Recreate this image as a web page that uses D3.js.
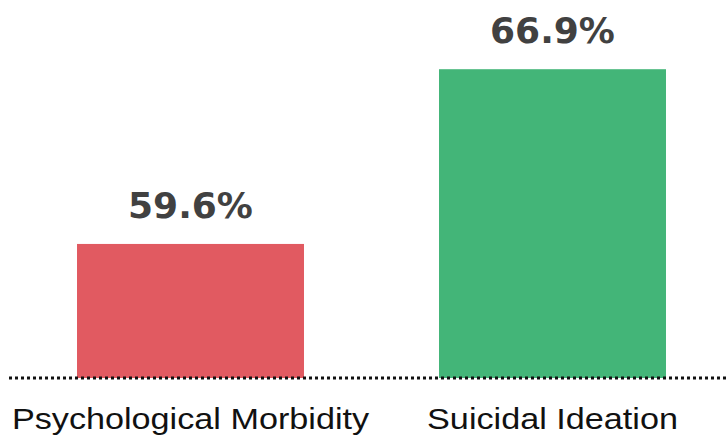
<!DOCTYPE html>
<html>
<head>
<meta charset="utf-8">
<script src="https://cdn.jsdelivr.net/npm/d3@7"></script>
<style>
  html, body { margin: 0; padding: 0; background: #ffffff; }
  svg { display: block; }
</style>
</head>
<body>
<svg id="chart" width="726" height="436"></svg>
<script>
const categories = ["Psychological Morbidity", "Suicidal Ideation"];
const values = [59.6, 66.9];
const valueLabels = ["59.6%", "66.9%"];
const colors = ["#E15A61", "#43B578"];

const svg = d3.select("#chart");
const W = 726, H = 436;
const baseY = 378;

const x = d3.scaleBand()
  .domain(categories)
  .range([9.5, 733.5])
  .paddingInner(0.373)
  .paddingOuter(0.1865);

const y = d3.scaleLinear()
  .domain([54, 70])
  .range([baseY, -5]);

const data = categories.map((c, i) => ({ cat: c, value: values[i], label: valueLabels[i], color: colors[i] }));

svg.selectAll("rect.bar")
  .data(data)
  .join("rect")
  .attr("class", "bar")
  .attr("x", d => x(d.cat))
  .attr("width", x.bandwidth())
  .attr("y", d => y(d.value))
  .attr("height", d => baseY - y(d.value))
  .attr("fill", d => d.color);

// dotted baseline
svg.append("line")
  .attr("x1", 9)
  .attr("x2", W)
  .attr("y1", baseY)
  .attr("y2", baseY)
  .attr("stroke", "#111")
  .attr("stroke-width", 3)
  .attr("stroke-dasharray", "3,3");

// value labels
svg.selectAll("text.val")
  .data(data)
  .join("text")
  .attr("class", "val")
  .attr("x", d => x(d.cat) + x.bandwidth() / 2)
  .attr("y", d => y(d.value) - 26)
  .attr("text-anchor", "middle")
  .attr("font-family", "'DejaVu Sans', Verdana, sans-serif")
  .attr("font-weight", "bold")
  .attr("font-size", 36)
  .attr("fill", "#414141")
  .text(d => d.label);

// category labels
svg.selectAll("text.cat")
  .data(data)
  .join("text")
  .attr("class", "cat")
  .attr("transform", d => `translate(${x(d.cat) + x.bandwidth() / 2},429) scale(1.14,1)`)
  .attr("text-anchor", "middle")
  .attr("font-family", "'Liberation Sans', Arial, sans-serif")
  .attr("font-size", 30)
  .attr("fill", "#111")
  .text(d => d.cat);
</script>
</body>
</html>
